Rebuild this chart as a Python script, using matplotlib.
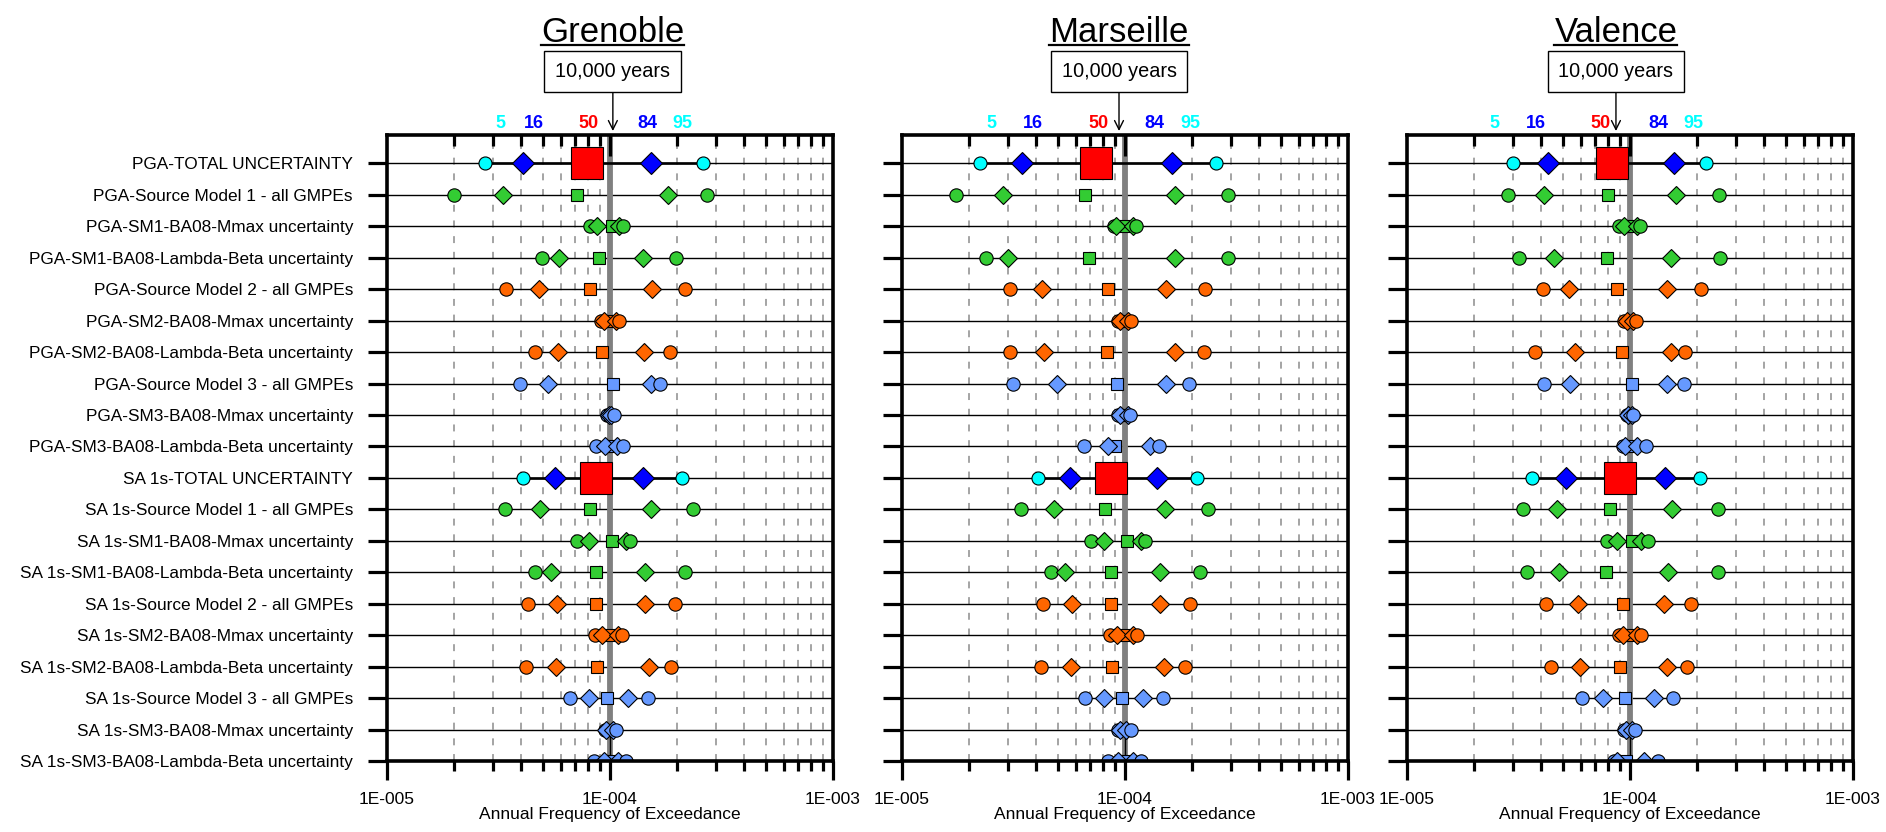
import matplotlib
matplotlib.use("Agg")
import matplotlib.pyplot as plt
import numpy as np
from matplotlib.ticker import FixedLocator, NullFormatter
from matplotlib.transforms import blended_transform_factory
from matplotlib.lines import Line2D

plt.rcParams["font.family"] = ["Liberation Sans", "DejaVu Sans"]
plt.rcParams["lines.scale_dashes"] = False

# ---------------------------------------------------------------- data
ROW_LABELS = [
    "PGA-TOTAL UNCERTAINTY",
    "PGA-Source Model 1 - all GMPEs",
    "PGA-SM1-BA08-Mmax uncertainty",
    "PGA-SM1-BA08-Lambda-Beta uncertainty",
    "PGA-Source Model 2 - all GMPEs",
    "PGA-SM2-BA08-Mmax uncertainty",
    "PGA-SM2-BA08-Lambda-Beta uncertainty",
    "PGA-Source Model 3 - all GMPEs",
    "PGA-SM3-BA08-Mmax uncertainty",
    "PGA-SM3-BA08-Lambda-Beta uncertainty",
    "SA 1s-TOTAL UNCERTAINTY",
    "SA 1s-Source Model 1 - all GMPEs",
    "SA 1s-SM1-BA08-Mmax uncertainty",
    "SA 1s-SM1-BA08-Lambda-Beta uncertainty",
    "SA 1s-Source Model 2 - all GMPEs",
    "SA 1s-SM2-BA08-Mmax uncertainty",
    "SA 1s-SM2-BA08-Lambda-Beta uncertainty",
    "SA 1s-Source Model 3 - all GMPEs",
    "SA 1s-SM3-BA08-Mmax uncertainty",
    "SA 1s-SM3-BA08-Lambda-Beta uncertainty",
]

CITIES = ["Grenoble", "Marseille", "Valence"]
PERCENTILES = ["5", "16", "50", "84", "95"]

# annual frequency of exceedance of each percentile, one value per row
GRENOBLE_P05 = [2.76e-5, 1.99e-5, 8.16e-5, 4.96e-5, 3.41e-5, 9.14e-5, 4.62e-5, 3.94e-5, 9.70e-5, 8.69e-5,
                4.08e-5, 3.39e-5, 7.11e-5, 4.63e-5, 4.27e-5, 8.53e-5, 4.19e-5, 6.63e-5, 9.45e-5, 8.48e-5]
GRENOBLE_P16 = [4.06e-5, 3.30e-5, 8.77e-5, 5.90e-5, 4.78e-5, 9.40e-5, 5.82e-5, 5.26e-5, 9.90e-5, 9.50e-5,
                5.66e-5, 4.83e-5, 8.05e-5, 5.41e-5, 5.78e-5, 9.20e-5, 5.74e-5, 8.07e-5, 9.55e-5, 9.40e-5]
GRENOBLE_P50 = [7.91e-5, 7.08e-5, 1.02e-4, 8.93e-5, 8.16e-5, 1.00e-4, 9.18e-5, 1.03e-4, 1.00e-4, 1.01e-4,
                8.69e-5, 8.11e-5, 1.02e-4, 8.62e-5, 8.69e-5, 1.00e-4, 8.74e-5, 9.70e-5, 1.00e-4, 1.00e-4]
GRENOBLE_P84 = [1.53e-4, 1.82e-4, 1.10e-4, 1.40e-4, 1.54e-4, 1.06e-4, 1.42e-4, 1.52e-4, 1.01e-4, 1.07e-4,
                1.40e-4, 1.52e-4, 1.18e-4, 1.44e-4, 1.43e-4, 1.09e-4, 1.49e-4, 1.20e-4, 1.03e-4, 1.09e-4]
GRENOBLE_P95 = [2.60e-4, 2.73e-4, 1.14e-4, 1.97e-4, 2.17e-4, 1.10e-4, 1.85e-4, 1.67e-4, 1.04e-4, 1.14e-4,
                2.10e-4, 2.36e-4, 1.23e-4, 2.17e-4, 1.96e-4, 1.13e-4, 1.87e-4, 1.48e-4, 1.06e-4, 1.18e-4]

MARSEILLE_P05 = [2.24e-5, 1.75e-5, 8.89e-5, 2.39e-5, 3.05e-5, 9.30e-5, 3.05e-5, 3.16e-5, 9.30e-5, 6.56e-5,
                 4.08e-5, 3.40e-5, 7.06e-5, 4.65e-5, 4.27e-5, 8.53e-5, 4.19e-5, 6.63e-5, 9.35e-5, 8.41e-5]
MARSEILLE_P16 = [3.46e-5, 2.85e-5, 9.14e-5, 2.99e-5, 4.24e-5, 9.46e-5, 4.32e-5, 4.95e-5, 9.46e-5, 8.39e-5,
                 5.68e-5, 4.81e-5, 8.02e-5, 5.39e-5, 5.78e-5, 9.18e-5, 5.74e-5, 8.07e-5, 9.46e-5, 9.33e-5]
MARSEILLE_P50 = [7.38e-5, 6.59e-5, 1.00e-4, 6.87e-5, 8.41e-5, 1.00e-4, 8.33e-5, 9.20e-5, 1.00e-4, 8.99e-5,
                 8.68e-5, 8.13e-5, 1.02e-4, 8.62e-5, 8.68e-5, 1.00e-4, 8.74e-5, 9.66e-5, 1.00e-4, 1.01e-4]
MARSEILLE_P84 = [1.62e-4, 1.67e-4, 1.09e-4, 1.68e-4, 1.53e-4, 1.03e-4, 1.68e-4, 1.52e-4, 1.03e-4, 1.29e-4,
                 1.39e-4, 1.51e-4, 1.18e-4, 1.44e-4, 1.43e-4, 1.09e-4, 1.49e-4, 1.20e-4, 1.01e-4, 1.09e-4]
MARSEILLE_P95 = [2.56e-4, 2.91e-4, 1.12e-4, 2.91e-4, 2.28e-4, 1.06e-4, 2.25e-4, 1.94e-4, 1.05e-4, 1.42e-4,
                 2.10e-4, 2.36e-4, 1.23e-4, 2.16e-4, 1.95e-4, 1.13e-4, 1.86e-4, 1.48e-4, 1.06e-4, 1.18e-4]

VALENCE_P05 = [3.00e-5, 2.85e-5, 8.93e-5, 3.19e-5, 4.06e-5, 9.40e-5, 3.74e-5, 4.11e-5, 9.73e-5, 9.30e-5,
               3.63e-5, 3.30e-5, 7.88e-5, 3.46e-5, 4.21e-5, 8.93e-5, 4.43e-5, 6.09e-5, 9.40e-5, 8.48e-5]
VALENCE_P16 = [4.30e-5, 4.12e-5, 9.40e-5, 4.55e-5, 5.32e-5, 9.66e-5, 5.64e-5, 5.36e-5, 9.83e-5, 9.50e-5,
               5.18e-5, 4.70e-5, 8.71e-5, 4.81e-5, 5.84e-5, 9.27e-5, 5.94e-5, 7.56e-5, 9.63e-5, 8.77e-5]
VALENCE_P50 = [8.33e-5, 7.96e-5, 1.00e-4, 7.91e-5, 8.77e-5, 1.00e-4, 9.18e-5, 1.02e-4, 1.00e-4, 1.02e-4,
               8.99e-5, 8.13e-5, 1.02e-4, 7.80e-5, 9.30e-5, 1.00e-4, 8.99e-5, 9.53e-5, 1.00e-4, 9.60e-5]
VALENCE_P84 = [1.58e-4, 1.60e-4, 1.07e-4, 1.52e-4, 1.46e-4, 1.035e-4, 1.52e-4, 1.47e-4, 1.017e-4, 1.08e-4,
               1.43e-4, 1.55e-4, 1.12e-4, 1.48e-4, 1.42e-4, 1.07e-4, 1.46e-4, 1.28e-4, 1.024e-4, 1.15e-4]
VALENCE_P95 = [2.20e-4, 2.51e-4, 1.11e-4, 2.54e-4, 2.08e-4, 1.06e-4, 1.77e-4, 1.74e-4, 1.028e-4, 1.18e-4,
               2.05e-4, 2.47e-4, 1.20e-4, 2.49e-4, 1.88e-4, 1.12e-4, 1.80e-4, 1.56e-4, 1.05e-4, 1.33e-4]

CITY_DATA = {
    "Grenoble": [GRENOBLE_P05, GRENOBLE_P16, GRENOBLE_P50, GRENOBLE_P84, GRENOBLE_P95],
    "Marseille": [MARSEILLE_P05, MARSEILLE_P16, MARSEILLE_P50, MARSEILLE_P84, MARSEILLE_P95],
    "Valence": [VALENCE_P05, VALENCE_P16, VALENCE_P50, VALENCE_P84, VALENCE_P95],
}

REF_FREQ = 1e-4          # 10,000-year return period
X_TICKS = [1e-5, 1e-4, 1e-3]
X_TICK_LABELS = ["1E-005", "1E-004", "1E-003"]

# ---------------------------------------------------------------- layout
W, H = 1886, 832
AX_LEFT_PX = [387, 902, 1407]
AX_WIDTH_PX = 446
AX_TOP_PX, AX_BOTTOM_PX = 135, 761
# horizontal position of title / "10,000 years" box / arrow for each panel
ANNOT_X = [1.03e-4, 0.94e-4, 0.865e-4]
# horizontal position of the percentile captions for each panel
CAPTION_X = [
    [3.24e-5, 4.55e-5, 8.05e-5, 1.47e-4, 2.11e-4],
    [2.52e-5, 3.86e-5, 7.57e-5, 1.36e-4, 1.96e-4],
    [2.47e-5, 3.78e-5, 7.41e-5, 1.34e-4, 1.92e-4],
]

CYAN, BLUE, RED = "#00FFFF", "#0000FF", "#FF0000"
GREEN, ORANGE, LBLUE = "#33CC33", "#FF6600", "#6699FF"
CAPTION_COLORS = [CYAN, BLUE, RED, BLUE, CYAN]
GRID_GRAY = "#8c8c8c"
REF_GRAY = "#808080"


def row_color(label):
    if "Source Model 1" in label or "SM1" in label:
        return GREEN
    if "Source Model 2" in label or "SM2" in label:
        return ORANGE
    return LBLUE


MINOR = [m * 10.0 ** e for e in (-5, -4) for m in range(2, 10)]

fig = plt.figure(figsize=(W / 100, H / 100), dpi=100)
rows = np.arange(len(ROW_LABELS))
titles = []

for k, city in enumerate(CITIES):
    ax = fig.add_axes([AX_LEFT_PX[k] / W, (H - AX_BOTTOM_PX) / H,
                       AX_WIDTH_PX / W, (AX_BOTTOM_PX - AX_TOP_PX) / H])
    ax.set_xscale("log")
    ax.set_xlim(1e-5, 1e-3)
    ax.set_ylim(len(ROW_LABELS) - 1, -0.9)

    # dashed guides at the minor decades
    for x in MINOR:
        ax.axvline(x, color=GRID_GRAY, lw=1.1, linestyle=(0, (5.0, 6.3)), zorder=1)
    # one baseline per row
    ax.hlines(rows, 1e-5, 1e-3, color="black", lw=1.0, zorder=2)
    # reference frequency
    ax.axvline(REF_FREQ, color=REF_GRAY, lw=4.2, zorder=3)
    ax.plot([REF_FREQ, REF_FREQ], [rows[-2], rows[-1]], color="black", lw=1.0, zorder=3.5)

    p05, p16, p50, p84, p95 = CITY_DATA[city]
    for r, label in enumerate(ROW_LABELS):
        total = "TOTAL" in label
        if total:
            ax.plot([p05[r], p95[r]], [r, r], color="black", lw=1.9, zorder=3.2)
            c_out, c_in, c_mid = CYAN, BLUE, RED
            ms_o, ms_d, ms_s = 9.4, 11.6, 22.5
        else:
            c_out = c_in = c_mid = row_color(label)
            ms_o, ms_d, ms_s = 9.6, 8.7, 9.2
        kw = dict(linestyle="none", markeredgecolor="black", markeredgewidth=0.8)
        ax.plot(p05[r], r, marker="o", color=c_out, ms=ms_o, zorder=4, **kw)
        ax.plot(p50[r], r, marker="s", color=c_mid, ms=ms_s, zorder=5, **kw)
        ax.plot(p16[r], r, marker="D", color=c_in, ms=ms_d, zorder=6, **kw)
        ax.plot(p84[r], r, marker="D", color=c_in, ms=ms_d, zorder=7, **kw)
        ax.plot(p95[r], r, marker="o", color=c_out, ms=ms_o, zorder=8, **kw)

    for s in ax.spines.values():
        s.set_linewidth(2.6)
        s.set_zorder(9)

    # bottom axis
    ax.xaxis.set_major_locator(FixedLocator(X_TICKS))
    ax.set_xticklabels(X_TICK_LABELS)
    ax.xaxis.set_minor_locator(FixedLocator(MINOR))
    ax.xaxis.set_minor_formatter(NullFormatter())
    ax.tick_params(axis="x", which="major", direction="out", length=14, width=2.3,
                   labelsize=12.5, pad=8, top=False)
    ax.tick_params(axis="x", which="minor", direction="out", length=7, width=2.3, top=False)
    ax.set_xlabel("Annual Frequency of Exceedance", fontsize=12.5, labelpad=0)

    # left axis
    ax.set_yticks(rows)
    ax.set_yticklabels(ROW_LABELS if k == 0 else [""] * len(rows))
    ax.tick_params(axis="y", direction="out", length=14, width=2.3, pad=10.5,
                   labelsize=12.4, right=False)

    # inward ticks along the top
    tw = ax.twiny()
    tw.set_xscale("log")
    tw.set_xlim(1e-5, 1e-3)
    tw.xaxis.set_major_locator(FixedLocator([REF_FREQ]))
    tw.xaxis.set_minor_locator(FixedLocator(MINOR))
    tw.xaxis.set_major_formatter(NullFormatter())
    tw.xaxis.set_minor_formatter(NullFormatter())
    tw.tick_params(axis="x", which="major", direction="in", length=15, width=2.3)
    tw.tick_params(axis="x", which="minor", direction="in", length=8, width=2.3)
    for s in tw.spines.values():
        s.set_visible(False)

    tr = blended_transform_factory(ax.transData, fig.transFigure)

    # percentile captions
    for name, cx, col in zip(PERCENTILES, CAPTION_X[k], CAPTION_COLORS):
        ax.text(cx, (H - 127.5) / H, name, transform=tr, ha="center", va="baseline",
                color=col, fontsize=13, fontweight="bold")

    # return-period box with arrow
    ax.annotate("10,000 years", xy=(ANNOT_X[k], (H - 131) / H), xycoords=tr,
                xytext=(ANNOT_X[k], (H - 71.5) / H), textcoords=tr,
                ha="center", va="center", fontsize=14.3,
                bbox=dict(boxstyle="square,pad=0.55", fc="white", ec="black", lw=1.0),
                arrowprops=dict(arrowstyle="->", color="black", lw=1.0,
                                shrinkA=0, shrinkB=0, mutation_scale=16))

    titles.append(ax.text(ANNOT_X[k], (H - 41.5) / H, city, transform=tr,
                          ha="center", va="baseline", fontsize=25))

# underline the city names
fig.canvas.draw()
renderer = fig.canvas.get_renderer()
for t in titles:
    bb = t.get_window_extent(renderer)
    y = (H - 44.5) / H
    fig.add_artist(Line2D([bb.x0 / W, bb.x1 / W], [y, y], transform=fig.transFigure,
                          color="black", lw=1.6))

fig.savefig("out.png", dpi=100)
